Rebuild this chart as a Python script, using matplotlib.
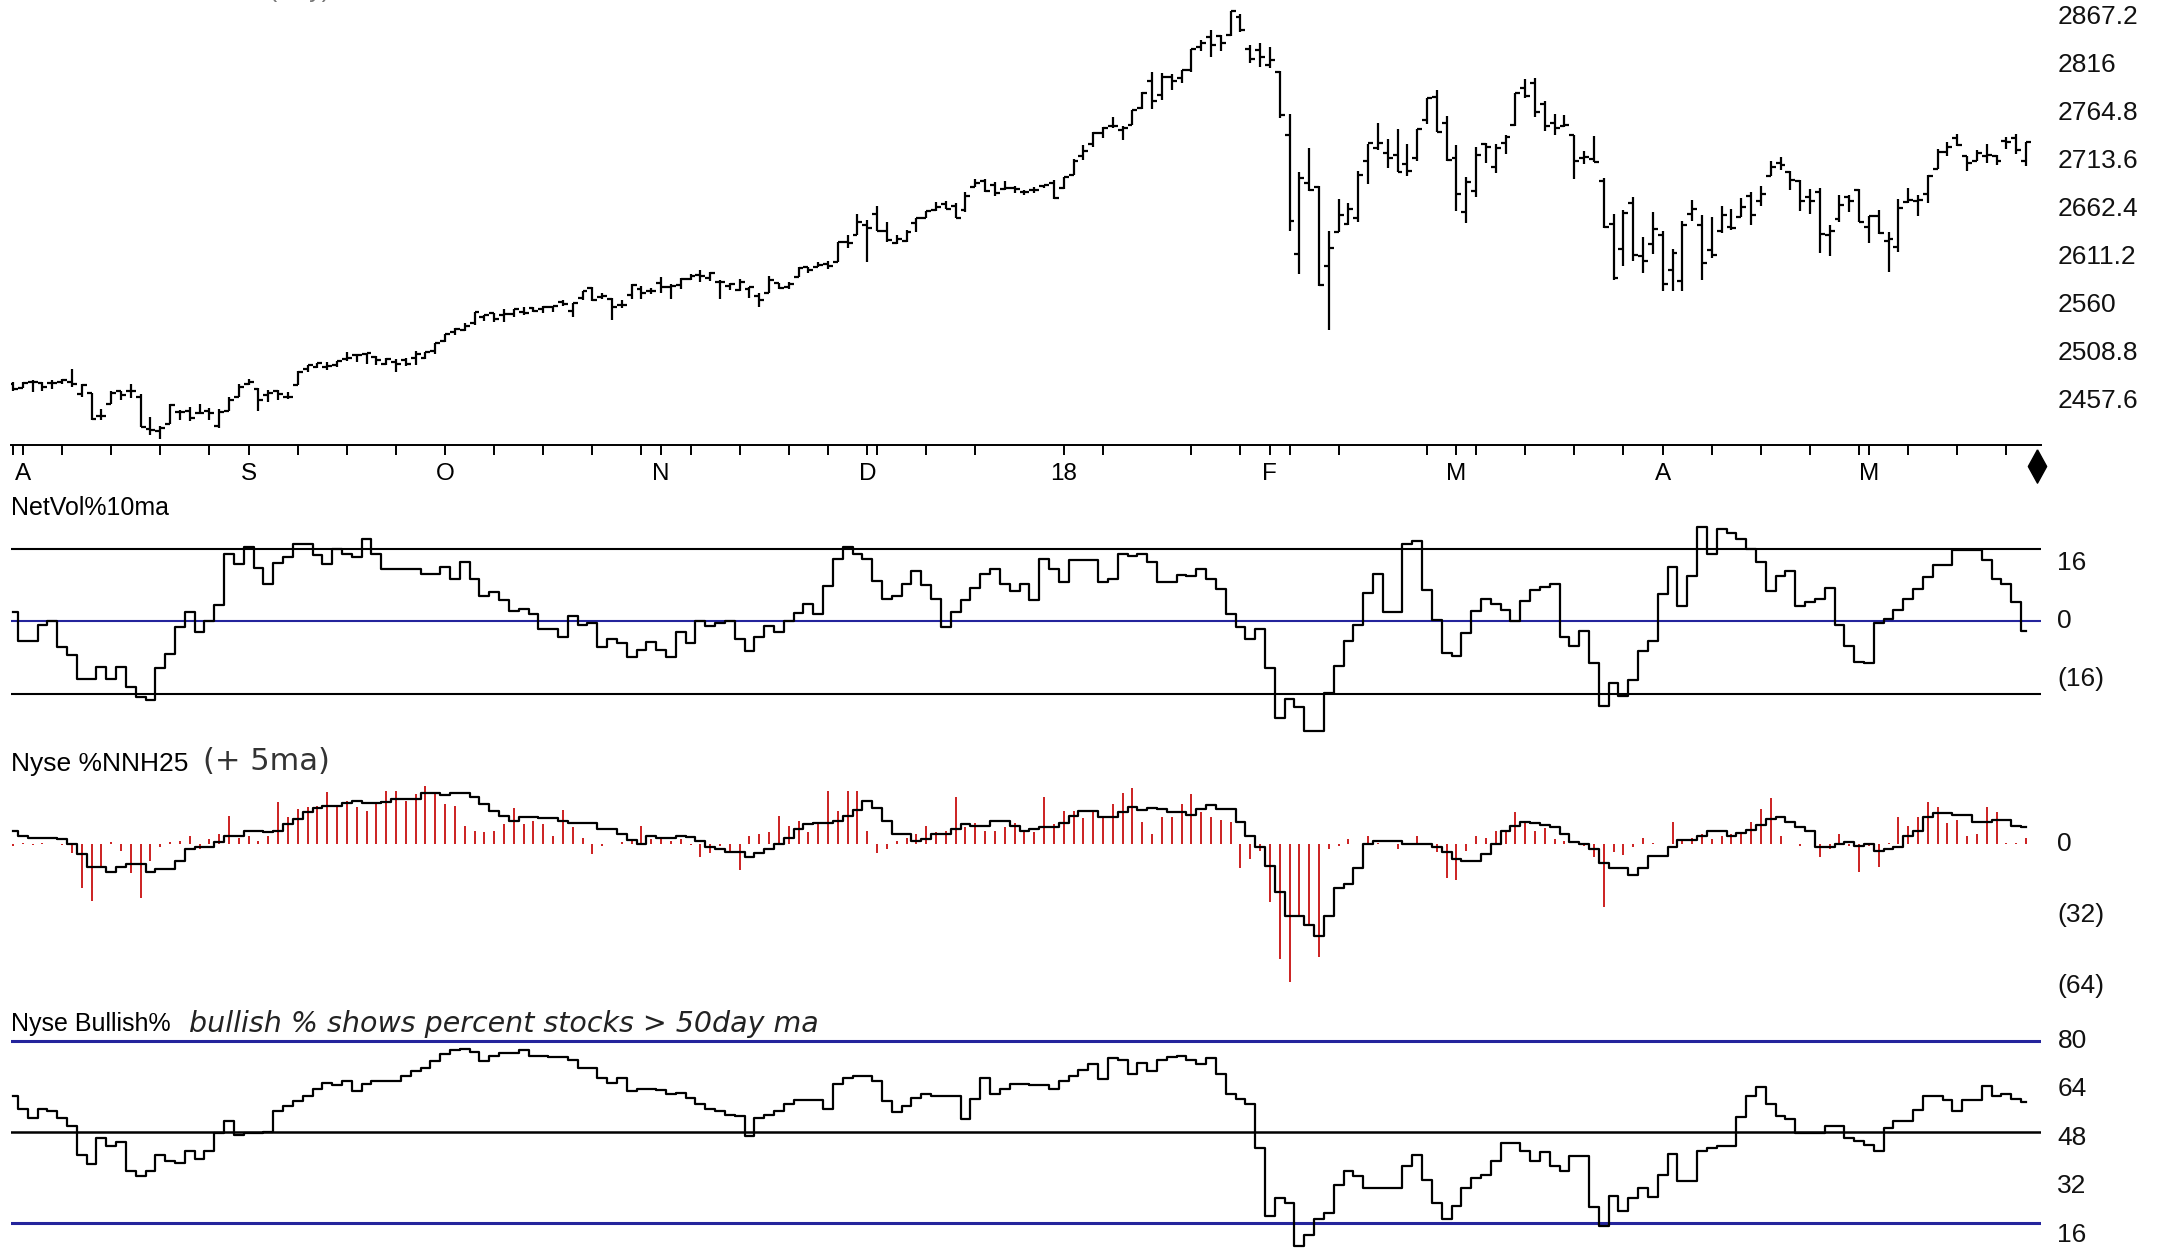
import numpy as np
import pandas as pd
import matplotlib
matplotlib.use("Agg")
import matplotlib.pyplot as plt
import matplotlib.transforms as mtransforms
from matplotlib.path import Path

plt.rcParams['font.family'] = ['Liberation Sans', 'DejaVu Sans']

# trading days Jul 31 2017 .. May 23 2018
holidays = ["2017-09-04", "2017-11-23", "2017-12-25", "2018-01-01",
            "2018-01-15", "2018-02-19", "2018-03-30"]
dates = pd.bdate_range("2017-07-31", "2018-05-23")
dates = dates[~dates.isin(pd.to_datetime(holidays))]

month_letters = ["A", "S", "O", "N", "D", "18", "F", "M", "A", "M"]

# S&P 500 daily bars
opens = [2475,
         2471, 2478, 2476, 2476, 2477, 2478, 2465, 2466, 2441, 2454, 2468, 2468, 2462, 2427, 2425, 2433, 2445, 2447, 2444, 2447, 2431, 2447, 2462,
         2475, 2470, 2464, 2468, 2462, 2474, 2491, 2493, 2494, 2496, 2502, 2506, 2507, 2504, 2497, 2499, 2501, 2503, 2503, 2511,
         2521, 2531, 2533, 2540, 2547, 2551, 2549, 2550, 2552, 2556, 2555, 2557, 2563, 2553, 2567, 2578, 2568, 2566, 2560, 2570, 2577, 2575,
         2583, 2579, 2581, 2587, 2592, 2588, 2584, 2580, 2576, 2577, 2569, 2572, 2583, 2579, 2589, 2600, 2600, 2603, 2605, 2627, 2634,
         2645, 2657, 2639, 2626, 2628, 2647, 2652, 2661, 2667, 2665, 2661, 2685, 2692, 2688, 2683, 2684, 2680, 2682, 2686, 2690,
         2684, 2698, 2719, 2731, 2743, 2751, 2746, 2752, 2770, 2798, 2784, 2803, 2802, 2810, 2835, 2845, 2846, 2848, 2867, 2833, 2832,
         2816, 2808, 2741, 2614, 2690, 2685, 2601, 2637, 2646, 2652, 2713, 2727, 2722, 2720, 2710, 2716, 2757, 2781, 2754,
         2716, 2659, 2681, 2731, 2707, 2732, 2752, 2791, 2796, 2774, 2754, 2750, 2741, 2716, 2715, 2692, 2646, 2619, 2668, 2612, 2625,
         2634, 2597, 2585, 2657, 2645, 2618, 2638, 2643, 2653, 2676, 2670, 2697, 2711, 2701, 2692, 2675, 2680, 2634, 2651, 2675, 2682,
         2643, 2654, 2628, 2621, 2669, 2671, 2678, 2705, 2723, 2738, 2719, 2713, 2719, 2718, 2735, 2738, 2713]
highs = [2477,
         2478, 2480, 2477, 2480, 2481, 2491, 2475, 2466, 2449, 2468, 2468, 2475, 2465, 2440, 2431, 2454, 2448, 2451, 2454, 2450, 2449, 2461, 2475,
         2481, 2471, 2469, 2469, 2467, 2489, 2496, 2498, 2499, 2500, 2509, 2507, 2508, 2505, 2503, 2502, 2503, 2511, 2510, 2519,
         2529, 2535, 2540, 2552, 2549, 2551, 2555, 2555, 2557, 2557, 2559, 2559, 2565, 2562, 2575, 2579, 2572, 2567, 2565, 2582, 2580, 2578,
         2589, 2582, 2588, 2593, 2597, 2595, 2586, 2583, 2587, 2579, 2572, 2590, 2583, 2584, 2600, 2600, 2605, 2606, 2627, 2634, 2657,
         2650, 2665, 2648, 2634, 2640, 2652, 2660, 2669, 2671, 2668, 2680, 2694, 2694, 2691, 2692, 2686, 2682, 2685, 2688, 2693,
         2696, 2715, 2730, 2744, 2749, 2760, 2751, 2768, 2787, 2808, 2807, 2806, 2810, 2833, 2842, 2853, 2848, 2873, 2870, 2837, 2839,
         2835, 2809, 2763, 2701, 2727, 2686, 2639, 2673, 2668, 2702, 2731, 2754, 2737, 2747, 2731, 2747, 2780, 2789, 2761,
         2730, 2696, 2728, 2732, 2731, 2741, 2786, 2801, 2802, 2777, 2763, 2762, 2741, 2724, 2740, 2695, 2657, 2661, 2675, 2632, 2659,
         2638, 2619, 2649, 2672, 2656, 2653, 2665, 2662, 2674, 2680, 2686, 2713, 2717, 2703, 2693, 2683, 2684, 2645, 2677, 2677, 2683,
         2655, 2661, 2637, 2673, 2684, 2677, 2698, 2726, 2733, 2742, 2719, 2725, 2731, 2720, 2739, 2742, 2733]
lows = [2468,
        2471, 2467, 2468, 2470, 2475, 2472, 2462, 2437, 2437, 2454, 2458, 2460, 2430, 2421, 2417, 2433, 2437, 2436, 2443, 2437, 2428, 2447, 2462,
        2474, 2447, 2456, 2458, 2459, 2474, 2488, 2492, 2490, 2493, 2500, 2499, 2497, 2496, 2496, 2488, 2495, 2496, 2502, 2507,
        2520, 2528, 2532, 2538, 2543, 2541, 2542, 2547, 2549, 2552, 2551, 2552, 2558, 2547, 2565, 2564, 2566, 2544, 2556, 2566, 2566, 2571,
        2572, 2566, 2577, 2586, 2584, 2585, 2566, 2576, 2575, 2567, 2557, 2572, 2577, 2577, 2589, 2594, 2600, 2598, 2605, 2620, 2634,
        2605, 2639, 2627, 2625, 2627, 2637, 2652, 2660, 2662, 2652, 2659, 2685, 2680, 2676, 2682, 2679, 2677, 2679, 2684, 2673,
        2683, 2698, 2714, 2728, 2738, 2748, 2736, 2752, 2769, 2769, 2778, 2789, 2796, 2808, 2830, 2824, 2831, 2846, 2851, 2818, 2813,
        2812, 2759, 2638, 2593, 2681, 2580, 2533, 2637, 2645, 2648, 2689, 2725, 2706, 2701, 2697, 2713, 2753, 2744, 2713,
        2660, 2647, 2675, 2711, 2700, 2721, 2751, 2780, 2760, 2745, 2741, 2749, 2694, 2710, 2712, 2642, 2586, 2601, 2606, 2594, 2614,
        2575, 2575, 2574, 2649, 2586, 2610, 2636, 2640, 2653, 2645, 2665, 2697, 2704, 2682, 2660, 2657, 2615, 2612, 2648, 2659, 2648,
        2626, 2635, 2595, 2616, 2668, 2655, 2668, 2705, 2718, 2729, 2702, 2713, 2711, 2709, 2726, 2721, 2708]
closes = [2470,
          2476, 2478, 2472, 2476, 2480, 2475, 2474, 2438, 2441, 2466, 2464, 2468, 2430, 2426, 2428, 2453, 2445, 2439, 2444, 2444, 2446, 2458, 2472,
          2477, 2458, 2466, 2465, 2461, 2488, 2496, 2498, 2495, 2500, 2503, 2506, 2508, 2501, 2502, 2497, 2497, 2507, 2510, 2519,
          2529, 2534, 2537, 2552, 2549, 2545, 2550, 2555, 2551, 2553, 2557, 2559, 2561, 2562, 2575, 2565, 2569, 2557, 2560, 2581, 2572, 2575,
          2579, 2580, 2587, 2591, 2590, 2594, 2584, 2582, 2584, 2579, 2565, 2586, 2578, 2582, 2599, 2597, 2602, 2601, 2627, 2626, 2648,
          2642, 2639, 2629, 2630, 2637, 2652, 2660, 2664, 2662, 2652, 2676, 2690, 2681, 2679, 2684, 2683, 2680, 2682, 2688, 2674,
          2696, 2713, 2724, 2743, 2748, 2751, 2748, 2768, 2786, 2777, 2803, 2798, 2810, 2833, 2839, 2837, 2839, 2873, 2853, 2822, 2824,
          2821, 2762, 2649, 2695, 2682, 2581, 2620, 2656, 2662, 2698, 2732, 2732, 2716, 2701, 2703, 2747, 2780, 2744, 2714,
          2678, 2691, 2720, 2728, 2727, 2739, 2786, 2783, 2765, 2750, 2748, 2752, 2713, 2717, 2712, 2643, 2588, 2658, 2613, 2606, 2641,
          2582, 2615, 2645, 2662, 2604, 2613, 2656, 2642, 2664, 2656, 2678, 2707, 2709, 2693, 2670, 2670, 2635, 2639, 2666, 2670, 2648,
          2655, 2636, 2630, 2663, 2672, 2672, 2697, 2723, 2728, 2730, 2711, 2722, 2720, 2713, 2733, 2725, 2733]
price_labels = [2867.2, 2816, 2764.8, 2713.6, 2662.4, 2611.2, 2560, 2508.8, 2457.6]

# NetVol% 10 day average
netvol = [2.6, -5.3, -5.3, -1.1, 0, -7, -9.4, -16, -16, -12.6,
          -15.8, -12.6, -18, -20.8, -21.7, -13, -8.9, -1.6, 2.6, -2.9,
          0, 4.4, 18.6, 15.9, 20.6, 14.8, 10.4, 16, 17.7, 21.2,
          21.2, 18.4, 15.9, 19.9, 18.6, 17.7, 22.7, 18.6, 14.5, 14.5,
          14.5, 14.5, 13.1, 13.1, 15, 11.7, 16.3, 11.7, 7, 8.1,
          5.8, 2.8, 3.5, 2.1, -2, -2, -4.3, 1.5, -1.1, -0.5,
          -7, -4.8, -6.1, -9.8, -7.8, -5.7, -7.8, -9.8, -2.9, -6,
          0, -1.3, -0.5, 0, -4.8, -8.3, -4.3, -1.3, -2.9, 0,
          2.3, 4.9, 1.9, 9.6, 17.2, 20.4, 18.6, 17.2, 11, 6.2,
          7, 10.4, 13.8, 9.9, 6.2, -1.6, 2.6, 6, 9.2, 13.1,
          14.5, 10.4, 8.3, 10.4, 6, 17.2, 14.5, 10.8, 16.8, 16.8,
          16.8, 10.8, 11.7, 18.6, 17.9, 18.6, 16.3, 10.8, 10.8, 12.9,
          12.4, 14.5, 11.7, 9, 2.1, -1.6, -4.8, -2, -13, -26.6,
          -21.3, -23.6, -30.3, -30.3, -19.9, -12.4, -5.4, -1.1, 7.8, 13.1,
          2.6, 2.6, 21.4, 22.1, 8.5, 0.3, -8.7, -9.6, -3.2, 2.8,
          6.2, 4.9, 3.2, 0, 5.5, 8.5, 9.4, 10.4, -4.3, -6.9,
          -2.7, -11.6, -23.4, -17.1, -20.6, -16.2, -8.3, -5.5, 7.6, 15.1,
          4.1, 12.4, 26, 18.6, 25.5, 24.3, 22.7, 20, 16.3, 8.3,
          12.4, 13.8, 4.1, 5.3, 6.2, 9.2, -1.1, -6.9, -11.2, -11.6,
          -0.6, 0.5, 3, 6.2, 9, 12.2, 15.4, 15.4, 19.7, 19.7,
          19.7, 16.8, 11.7, 10.4, 5.3, -2.8]

# NYSE % net new highs (daily) and its 5 day average
nnh = [-0.8, 0.5, -0.3, 0.5, 0.3, -0.5, -4, -19.7, -25.8, -10.6,
       0.8, -3, -12.9, -24.2, -7.6, -1.5, 0.8, 1.5, 3.8, -2.3,
       2.3, 4.5, 12.9, 3, 3.8, 1.5, 3.8, 18.9, 12.1, 15.9,
       16.7, 17.4, 23.5, 17.4, 19.7, 16.7, 15.2, 18.2, 24.2, 24.2,
       19.7, 22.7, 26.5, 23.5, 18.2, 17.4, 8.3, 6.1, 5.3, 6.1,
       9.1, 16.4, 9.1, 10.6, 9.1, 3.8, 15.5, 7.6, 3, -4.5,
       -0.8, 0, 0.8, 1.5, 8.3, 2.3, 3, 1.5, 2.3, -0.3,
       -6, -3.8, -0.8, -3.8, -11.8, 3.8, 4.5, 5.3, 12.9, 8.3,
       10.6, 5.3, 9.8, 24.2, 15.2, 24.2, 24.2, 6.1, -3.8, -2.3,
       1.5, 3, 4.5, 8.3, 5.3, 6.1, 21.2, 7.6, 9.8, 6.1,
       6.1, 7.6, 9.8, 6.1, 5.3, 21.2, 9.1, 15.2, 15.2, 12,
       14.5, 12.4, 18.2, 23.3, 25.5, 10.2, 4.4, 12.4, 12.4, 18.2,
       22.5, 14.5, 12.4, 11, 10.2, -10.9, -6.5, -3, -26, -52,
       -62.5, -33, -37, -51, -2.2, -0.7, 2.2, 0, 3.6, 0.7,
       0, -2.2, 0, 3.6, 0, -3.6, -15.3, -16, -2.9, 3.6,
       2.9, 5.8, 6.5, 14.5, 10.2, 5.8, 7.3, 2.2, 1.5, 0,
       -0.7, -5.8, -28.4, -3.6, -5.1, -1.5, 2.9, 0.7, 0, 10.2,
       1.5, 2.9, 4.4, 2.2, 3.6, 4.5, 5.1, 10.2, 16, 21,
       3.6, 0, -0.7, 0, -5.8, -2.2, 4.4, -0.7, -12.4, -0.7,
       -10.2, 0.7, 12.4, 8, 12.4, 18.9, 16.7, 9.5, 10.9, 3.6,
       4.4, 16.7, 14.5, 0.7, 0.7, 2.9]
nnh_ma = [6.1, 3.8, 2.7, 2.7, 2.7, 2.3, 0.3, -4.5, -10.2, -10.2,
          -12.4, -10.2, -8.8, -8.8, -12.4, -11.4, -11.4, -7.6, -2.3, -1.2,
          -1.2, 0.8, 3.8, 3.8, 6.1, 6.1, 5.3, 6.1, 9.1, 11.4,
          14.4, 16.4, 17.4, 17.4, 18.5, 19.7, 18.5, 18.5, 18.9, 20.5,
          20.5, 20.5, 23, 23, 22.4, 23, 23, 21.2, 18.2, 15.2,
          12.9, 10.6, 12.4, 12.4, 11.8, 11.8, 10.6, 9.4, 9.4, 9.4,
          6.8, 6.8, 4.5, 1.8, 0, 3.8, 3, 3, 3.8, 3.3,
          1.5, -1.2, -2.3, -3.5, -3.5, -5.8, -3.8, -2.3, 0, 3,
          6.8, 9.1, 9.4, 9.4, 10.6, 12.9, 15.5, 19.7, 16.4, 10.6,
          4.8, 4.8, 1.5, 2.3, 4.5, 4.5, 6.8, 9.1, 8.3, 8.3,
          10.6, 10.6, 8.3, 6.1, 6.8, 7.9, 7.9, 9.4, 12.9, 14.8,
          14.8, 12.1, 12.1, 14.5, 16.7, 15.3, 16.3, 15.7, 14.5, 14.5,
          13.1, 15.7, 17.7, 15.7, 15.7, 10.2, 3.6, -1.5, -9.7, -21.8,
          -32.7, -32.7, -36.7, -41.5, -32.7, -19.6, -18.2, -10.9, 0, 1.5,
          1.5, 1.5, 0, 0, 0, -1.2, -3.6, -6.5, -7.6, -7.6,
          -4.4, 0, 5.8, 8, 10.2, 9.7, 8.7, 7.6, 4.4, 1.2,
          0, -2.2, -8.7, -10.9, -10.9, -13.8, -10.9, -5.5, -5.5, -1.2,
          1.7, 1.7, 3.6, 5.8, 5.8, 3.6, 5.1, 6.5, 8.7, 11.6,
          12.4, 10.2, 7.6, 5.8, -1.2, -1.2, 0, 1.2, -0.7, 0,
          -2.9, -2.2, -1.2, 3.6, 5.8, 12.4, 14.3, 14.3, 13.4, 13.4,
          10.2, 10.2, 10.9, 10.9, 8.4, 7.6]

# NYSE bullish % (stocks above 50 day ma)
bullish = [61.8, 57.7, 54.6, 57.4, 56.8, 54.6, 51.9, 42.5, 39.4, 48,
           45.3, 46.7, 37, 35.3, 37, 42.3, 40.3, 39.8, 43.6, 40.9,
           43.6, 49.7, 53.5, 48.9, 49.7, 49.7, 50, 56.8, 58.5, 60.2,
           61.8, 64, 66.2, 65.4, 66.8, 63.5, 65.7, 66.8, 66.8, 66.8,
           68.4, 70.1, 71, 73.4, 75.8, 77, 77.5, 76.5, 73.4, 75,
           76.1, 76.1, 76.9, 75, 75, 74.7, 74.7, 73.9, 71, 71,
           67.7, 66.2, 67.7, 63.5, 64.3, 64.3, 63.7, 62.4, 62.9, 61.3,
           59.1, 57.4, 56.8, 55.7, 55.2, 48.6, 54.6, 55.7, 56.8, 59.1,
           60.5, 60.5, 60.5, 57.4, 65.7, 67.9, 68.4, 68.4, 66.8, 60.2,
           56.6, 58.5, 61.3, 62.4, 61.8, 61.8, 61.8, 54.4, 60.7, 67.7,
           62.4, 64, 65.7, 65.7, 65.4, 65.4, 64, 66.8, 68.4, 70.6,
           72.3, 67.3, 74.3, 73.6, 69, 72.8, 70.1, 73.9, 74.7, 75,
           73.6, 72.5, 74.3, 69, 62.6, 61, 59.3, 44.5, 22.1, 28,
           26.5, 12.2, 15.8, 21.3, 23.2, 32.4, 37, 35.3, 31.5, 31.3,
           31.3, 31.3, 38.7, 42.3, 34.2, 26.5, 21.3, 25.4, 31.3, 34.6,
           35.7, 40.3, 46.2, 46.2, 43.6, 40.3, 43.4, 38.7, 37, 42,
           42, 25.1, 18.8, 28.7, 23.8, 28.2, 31.5, 28.4, 35.6, 42.7,
           33.7, 33.7, 43.6, 44.7, 45.3, 45.3, 54.9, 61.8, 64.8, 59.1,
           55.2, 54.4, 49.7, 49.7, 49.7, 51.9, 51.9, 48, 47.1, 45.5,
           43.6, 51.3, 53.5, 53.5, 57.1, 61.8, 61.8, 60.4, 56.8, 60.4,
           60.4, 65.1, 61.8, 62.4, 60.7, 59.9]

BLUE = "#24249c"
RED = "#cc2020"
W, H = 1568.0, 904.0  # layout grid, pixels of the reference scaled down


def box(x0, y0, x1, y1):
    return [x0 / W, 1 - y1 / H, (x1 - x0) / W, (y1 - y0) / H]


def right_labels(ax, vals, texts, size=19):
    tr = mtransforms.blended_transform_factory(ax.transAxes, ax.transData)
    for v, t in zip(vals, texts):
        ax.text(1.0082, v, t, transform=tr, ha="left", va="center",
                fontsize=size, color="#111111", clip_on=False)


XL = (-0.2, 206.5)
fig = plt.figure(figsize=(21.65, 12.49), dpi=100)
fig.patch.set_facecolor("white")

# ---- price panel
ax = fig.add_axes(box(8, 0, 1478, 322))
d = np.arange(len(closes))
ax.vlines(d, lows, highs, color="k", lw=1.6)
ax.hlines(opens, d - 0.5, d, color="k", lw=1.6)
ax.hlines(closes, d, d + 0.5, color="k", lw=1.6)
ax.set_xlim(XL)
ax.set_ylim(2410.4, 2884.9)
for s in ["left", "right", "top"]:
    ax.spines[s].set_visible(False)
ax.spines["bottom"].set_linewidth(1.4)
ax.set_yticks([])
month_idx = [i for i in range(1, len(dates)) if dates[i].month != dates[i - 1].month]
mondays = [i for i, dt in enumerate(dates) if dt.weekday() == 0 and i not in month_idx]
ax.set_xticks(month_idx)
ax.set_xticklabels(month_letters)
ax.set_xticks(mondays, minor=True)
ax.tick_params(which="both", direction="out", length=7, width=1.4, color="k")
ax.tick_params(which="major", labelsize=17.5, pad=6)
right_labels(ax, price_labels, [f"{v:g}" for v in price_labels])
diamond = Path([(0, 1), (0.55, 0), (0, -1), (-0.55, 0), (0, 1)])
trd = mtransforms.blended_transform_factory(ax.transData, ax.transAxes)
ax.plot([206.1], [-0.047], marker=diamond, ms=24, color="k", transform=trd, clip_on=False)
# chart title sits above the visible area, only its lowest pixels show
fig.text(30 / 2165, 1 + 3 / 1249, "S&P 500 Cash Index (Day)", fontsize=18,
         color="#777777", va="baseline", ha="left")

# ---- NetVol%10ma
ax = fig.add_axes(box(8, 380, 1478, 535))
ax.set_xlim(XL)
ax.set_ylim(-32.5, 26.55)
ax.axis("off")
ax.axhline(20, color="k", lw=1.5)
ax.axhline(-20, color="k", lw=1.5)
ax.axhline(0, color=BLUE, lw=1.5)
ax.step(np.arange(len(netvol)), netvol, where="mid", color="k", lw=1.6)
right_labels(ax, [16, 0, -16], ["16", "0", "(16)"])
fig.text(8 / W, 1 - 368 / H, "NetVol%10ma", fontsize=18, va="center", ha="left")

# ---- Nyse %NNH25
ax = fig.add_axes(box(8, 555, 1478, 725))
ax.set_xlim(XL)
ax.set_ylim(-71.25, 35)
ax.axis("off")
ax.vlines(np.arange(len(nnh)), 0, nnh, color=RED, lw=1.4)
ax.step(np.arange(len(nnh_ma)), nnh_ma, where="mid", color="k", lw=1.6)
right_labels(ax, [0, -32, -64], ["0", "(32)", "(64)"])
fig.text(8 / W, 1 - 553 / H, "Nyse %NNH25", fontsize=19, va="center", ha="left")
fig.text(147 / W, 1 - 551 / H, "(+ 5ma)", fontsize=22, va="center", ha="left",
         color="#333333", family="DejaVu Sans")

# ---- Nyse Bullish%
ax = fig.add_axes(box(8, 745, 1478, 904))
ax.set_xlim(XL)
ax.set_ylim(11.28, 83.88)
ax.axis("off")
ax.axhline(80, color=BLUE, lw=2.2)
ax.axhline(50, color="k", lw=1.8)
ax.axhline(20, color=BLUE, lw=2.2)
ax.step(np.arange(len(bullish)), bullish, where="mid", color="k", lw=1.6)
right_labels(ax, [80, 64, 48, 32, 16], ["80", "64", "48", "32", "16"])
fig.text(8 / W, 1 - 741 / H, "Nyse Bullish%", fontsize=18, va="center", ha="left")
fig.text(137 / W, 1 - 741 / H, "bullish % shows percent stocks > 50day ma", fontsize=20.5,
         va="center", ha="left", style="italic", color="#222222", family="DejaVu Sans")

fig.savefig("out.png", dpi=100, facecolor="white")
